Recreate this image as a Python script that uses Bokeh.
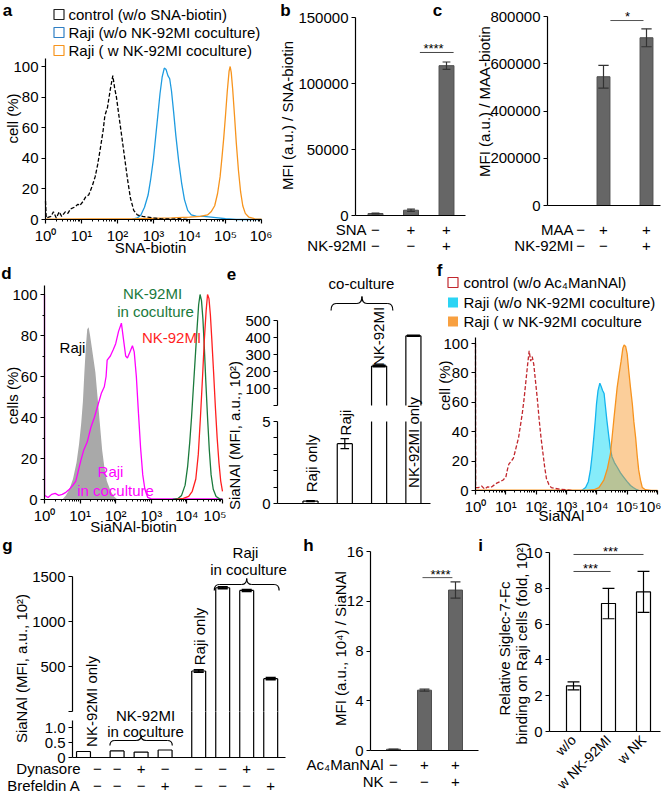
import math
from bokeh.plotting import figure
from bokeh.models import (Range1d, LinearAxis, FixedTicker, Label, BasicTickFormatter)
from bokeh.layouts import row, column
from bokeh.embed import file_html
from bokeh.resources import INLINE

FONT = "Liberation Sans"
MINUS = "\u2212"
SUP = "⁰¹²³⁴⁵⁶"
GRAY = "#666666"
GRAYL = "#4d4d4d"
PI2 = math.pi / 2

# ======================= DATA =======================
pct_ticks = [0, 20, 40, 60, 80, 100]

# (a) SNA-biotin flow histograms (log10 intensity, % of max)
a_ctrl_logx = [0.0, 0.02, 0.15, 0.22, 0.3, 0.38, 0.45, 0.55, 0.62, 0.7, 0.8, 0.9, 0.95, 1.05,
               1.12, 1.2, 1.3, 1.38, 1.45, 1.52, 1.6, 1.65, 1.72, 1.8, 1.87, 1.92, 1.97, 2.05,
               2.12, 2.2, 2.28, 2.36, 2.45, 2.55, 2.7, 2.85, 3.0, 3.2, 3.5, 3.7, 4.0]
a_ctrl_pct = [12, 1, 2, 5, 1, 5, 2, 5, 4, 7, 8, 10, 9, 12, 15, 16, 22, 28, 36, 46, 58, 68, 73,
              85, 94, 86, 80, 66, 54, 40, 26, 14, 6, 3, 2, 1.5, 1, 0.5, 0.3, 0.5, 0]
a_noco_logx = [2.4, 2.55, 2.65, 2.75, 2.85, 2.92, 3.0, 3.06, 3.12, 3.18, 3.24, 3.3, 3.35, 3.4,
               3.45, 3.5, 3.56, 3.62, 3.7, 3.78, 3.86, 3.95, 4.05, 4.2, 4.4, 4.6, 4.8, 5.0, 5.3, 6.0]
a_noco_pct = [0, 1, 3, 8, 16, 26, 40, 54, 68, 82, 93, 99, 98, 94, 92, 84, 70, 55, 38, 24, 13, 6,
              3, 2, 2, 1.5, 1, 0.5, 0, 0]
a_co_logx = [0.0, 2.5, 3.0, 3.5, 4.0, 4.3, 4.5, 4.6, 4.7, 4.78, 4.85, 4.9, 4.95, 5.0, 5.05, 5.1,
             5.13, 5.16, 5.2, 5.25, 5.3, 5.36, 5.42, 5.48, 5.55, 5.65, 5.8, 6.0]
a_co_pct = [0.3, 0.5, 0.8, 1, 1.5, 2, 3, 5, 9, 17, 28, 40, 53, 68, 84, 97, 100, 96, 85, 68, 50,
            32, 18, 9, 4, 1.5, 0.5, 0.2]
a_legend = ["control (w/o SNA-biotin)", "Raji (w/o NK-92MI coculture)",
            "Raji ( w   NK-92MI coculture)"]

# (b) SNA MFI bars
b_ticks = [0, 50000, 100000, 150000]
b_vals = [1500, 4000, 113500]
b_errs = [300, 900, 2800]
b_sig = 123500
b_sna = [MINUS, "+", "+"]
b_nk = [MINUS, MINUS, "+"]

# (c) MAA MFI bars
c_ticks = [0, 200000, 400000, 600000, 800000]
c_vals = [0, 545000, 710000]
c_errs = [0, 48000, 38000]
c_sig = 783000
c_maa = [MINUS, "+", "+"]
c_nk = [MINUS, MINUS, "+"]

# (d) SiaNAl-biotin histograms
d_raji_logx = [0.5, 0.6, 0.7, 0.8, 0.9, 0.97, 1.03, 1.08, 1.12, 1.16, 1.2, 1.24, 1.28, 1.33,
               1.38, 1.43, 1.49, 1.55, 1.62, 1.68, 1.75, 1.86, 1.95, 2.05]
d_raji_pct = [0, 2, 5, 10, 18, 27, 37, 48, 62, 74, 83, 84, 80, 74, 68, 62, 50, 38, 24, 16, 9, 4,
              1.5, 0]
d_rajico_logx = [0.0, 0.003, 0.1, 0.2, 0.3, 0.4, 0.5, 0.6, 0.7, 0.8, 0.88, 0.95, 1.02, 1.1, 1.2,
                 1.3, 1.4, 1.5, 1.6, 1.68, 1.73, 1.76, 1.85, 1.93, 2.0, 2.08, 2.16, 2.22, 2.28,
                 2.33, 2.4, 2.47, 2.52, 2.58, 2.64, 2.7, 2.76, 2.82, 2.9, 3.0, 5.0]
d_rajico_pct = [100, 2, 1, 2.5, 3, 2, 2.5, 3.5, 5, 7, 9, 14, 19, 24, 28, 35, 40, 46, 52, 55, 60,
                68, 70, 73, 76, 82, 86, 78, 70, 69, 72, 75, 72, 60, 42, 25, 12, 5, 1, 0.3, 0.3]
d_nkco_logx = [3.6, 3.75, 3.85, 3.95, 4.02, 4.08, 4.13, 4.18, 4.23, 4.28, 4.33, 4.37, 4.41, 4.45,
               4.49, 4.53, 4.58, 4.63, 4.68, 4.74, 4.82, 4.92, 5.0]
d_nkco_pct = [0, 0.5, 2, 7, 16, 28, 40, 54, 68, 82, 95, 100, 97, 88, 74, 58, 40, 24, 12, 5, 1.5,
              0.3, 0]
d_nk_logx = [3.7, 3.9, 4.05, 4.15, 4.25, 4.32, 4.38, 4.44, 4.49, 4.54, 4.58, 4.62, 4.66, 4.7,
             4.75, 4.8, 4.85, 4.9, 4.95, 5.0]
d_nk_pct = [0, 0.5, 1.5, 4, 10, 22, 40, 60, 78, 92, 100, 98, 90, 78, 62, 45, 30, 18, 9, 4]

# (e) SiaNAl MFI (broken axis)
e_names = ["Raji only", "Raji", "NK-92MI", "NK-92MI only"]
e_vals = [0.15, 3.65, 232, 410]
e_errs = [0.03, 0.3, 4, 3]
e_up_ticks = [0, 100, 200, 300, 400, 500]
e_lo_ticks = [0, 1, 2, 3, 4, 5]

# (f) SiaNAl histograms
f_ctrl_logx = [0.0, 0.005, 0.1, 0.2, 0.3, 0.4, 0.5, 0.6, 0.7, 0.8, 0.9, 1.0, 1.05, 1.1, 1.18,
               1.25, 1.3, 1.36, 1.42, 1.48, 1.54, 1.6, 1.66, 1.72, 1.77, 1.82, 1.87, 1.92, 1.98,
               2.04, 2.1, 2.16, 2.22, 2.28, 2.34, 2.42, 2.5, 2.6, 2.8, 3.0, 3.2]
f_ctrl_pct = [100, 2, 2, 3, 1, 2.5, 2, 3.5, 5, 6, 7, 9, 14, 18, 20, 22, 26, 31, 36, 44, 52, 62,
              74, 86, 95, 88, 91, 86, 74, 62, 48, 36, 26, 16, 8, 4, 2, 1.5, 0.8, 0.5, 0]
f_noco_logx = [3.5, 3.63, 3.72, 3.79, 3.85, 3.9, 3.95, 3.99, 4.04, 4.1, 4.14, 4.19, 4.24, 4.28,
               4.33, 4.4, 4.45, 4.5, 4.58, 4.67, 4.78, 4.89, 5.0, 5.11, 5.2, 5.28, 5.4]
f_noco_pct = [0, 2, 6, 14, 25, 36, 48, 59, 68, 73, 71, 68, 66, 58, 48, 36, 28, 23, 19, 16, 12, 9,
              6, 3.4, 2, 1, 0]
f_co_logx = [0.0, 3.7, 3.9, 4.07, 4.23, 4.35, 4.45, 4.56, 4.67, 4.74, 4.8, 4.86, 4.9, 4.95, 5.0,
             5.05, 5.11, 5.17, 5.22, 5.28, 5.33, 5.38, 5.44, 5.5, 5.6, 5.8, 6.0]
f_co_pct = [0.3, 0.3, 0.5, 2, 7, 15, 25, 48, 70, 80, 88, 97, 99, 98, 93, 82, 70, 59, 47, 36, 24,
            14, 7, 2, 0.5, 0, 0]
f_legend = ["control (w/o Ac\u2084ManNAl)", "Raji (w/o NK-92MI coculture)",
            "Raji (  w  NK-92MI coculture"]

# (g) SiaNAl MFI with inhibitors (broken axis)
g_vals = [0.2, 0.22, 0.18, 0.25, 450, 1375, 1345, 365]
g_errs = [0, 0, 0, 0, 12, 10, 10, 12]
g_dyn = [MINUS, MINUS, "+", MINUS, MINUS, MINUS, "+", MINUS]
g_bre = [MINUS, MINUS, MINUS, "+", MINUS, MINUS, MINUS, "+"]
g_up_ticks = [0, 500, 1000, 1500]
g_lo_ticks = [0, 0.5, 1.0]

# (h) SiaNAl MFI bars
h_vals = [0.1, 4.85, 12.9]
h_errs = [0.02, 0.08, 0.65]
h_sig = 13.9
h_ac = [MINUS, "+", "+"]
h_nk = [MINUS, MINUS, "+"]
h_ticks = [0, 4, 8, 12, 16]

# (i) Siglec-7-Fc binding
i_cats = ["w/o", "w NK-92MI", "w NK"]
i_vals = [2.55, 7.15, 7.8]
i_errs = [0.22, 0.85, 1.15]
i_sig = [8.94, 9.89]
i_ticks = [0, 2, 4, 6, 8, 10]


# ======================= HELPERS =======================
def style_ax(ax, size=15):
    ax.axis_line_color = "black"
    ax.axis_line_width = 1.2
    ax.major_tick_line_color = "black"
    ax.major_tick_line_width = 1.2
    ax.major_tick_in = 0
    ax.major_tick_out = 4
    ax.minor_tick_line_color = "black"
    ax.minor_tick_in = 0
    ax.minor_tick_out = 2
    ax.major_label_text_font = FONT
    ax.major_label_text_font_size = "%dpx" % size
    ax.major_label_text_color = "black"
    ax.major_label_standoff = 3


class Pan:
    """A figure whose plot frame fills its whole box; axes sit at fixed data locations."""

    def __init__(self, box, xref, yref, xlog=False, lref=None):
        self.box, self.xref, self.yref, self.xlog, self.lref = box, xref, yref, xlog, lref
        x0, y0, x1, y1 = box
        p = figure(width=x1 - x0, height=y1 - y0,
                   x_range=Range1d(self.xd(x0), self.xd(x1)),
                   y_range=Range1d(self.yd(y1), self.yd(y0)),
                   x_axis_type="log" if xlog else "linear", title=None,
                   output_backend="svg", toolbar_location=None,
                   min_border_left=0, min_border_right=0, min_border_top=0,
                   min_border_bottom=0)
        if lref is not None:
            p.extra_y_ranges = {"lower": Range1d(self.yl(y1), self.yl(y0))}
        p.xgrid.visible = False
        p.ygrid.visible = False
        p.outline_line_color = None
        for ax in list(p.xaxis) + list(p.yaxis):
            style_ax(ax)
        self.p = p

    def xd(self, rx):
        px, v, ppu = self.xref
        v = v + (rx - px) / ppu
        return 10 ** v if self.xlog else v

    def yd(self, ry):
        px, v, ppu = self.yref
        return v + (px - ry) / ppu

    def yl(self, ry):
        px, v, ppu = self.lref
        return v + (px - ry) / ppu

    def axes(self, x_axis_py, y_axis_px, xb, yb):
        xa = self.p.xaxis[0]
        xa.fixed_location = self.yd(x_axis_py)
        xa.bounds = xb
        ya = self.p.yaxis[0]
        ya.fixed_location = self.xd(y_axis_px)
        ya.bounds = yb

    def lab(self, rx, ry, text, size=15, color="black", align="center", angle=0.0,
            bold=False, xd=None):
        x = self.xd(rx) if xd is None else xd
        self.p.add_layout(Label(x=x, y=self.yd(ry), text=text, text_font=FONT,
                                text_font_size="%dpx" % size, text_color=color,
                                text_align=align, text_baseline="middle", angle=angle,
                                text_font_style="bold" if bold else "normal"))

    def square(self, rx, ry, fill, line):
        self.p.rect(x=[self.xd(rx)], y=[self.yd(ry)], width=10, height=10,
                    width_units="screen", height_units="screen", fill_color=fill,
                    line_color=line, line_width=1.2)


def log_xaxis(p, ndec):
    ax = p.xaxis[0]
    ax.ticker = FixedTicker(ticks=[10 ** k for k in range(ndec + 1)],
                            minor_ticks=[m * 10 ** k for k in range(ndec) for m in range(2, 10)])
    ax.major_label_overrides = {10 ** k: "10" + SUP[k] for k in range(ndec + 1)}


def no_xticks(p):
    p.xaxis[0].ticker = FixedTicker(ticks=[])


def errbars(p, xs, vals, errs, capw, lw=1.2, color="black", name="default"):
    sel = [(x, v, e) for x, v, e in zip(xs, vals, errs) if e > 0]
    if not sel:
        return
    X = [s[0] for s in sel]
    lo = [s[1] - s[2] for s in sel]
    hi = [s[1] + s[2] for s in sel]
    p.segment(x0=X, y0=lo, x1=X, y1=hi, line_color=color, line_width=lw, y_range_name=name)
    for yy in (lo, hi):
        p.segment(x0=[x - capw / 2 for x in X], y0=yy, x1=[x + capw / 2 for x in X], y1=yy,
                  line_color=color, line_width=lw, y_range_name=name)


def split_bars(p, xs, vals, w, lo_top, up_bot, lw=1.2):
    def draw(xx, bot, top, closed, name):
        if not xx:
            return
        p.vbar(x=xx, bottom=bot, top=top, width=w, fill_color="white", line_color=None,
               y_range_name=name)
        xl = [x - w / 2 for x in xx]
        xr = [x + w / 2 for x in xx]
        p.segment(x0=xl + xr, y0=bot + bot, x1=xl + xr, y1=top + top, line_color="black",
                  line_width=lw, y_range_name=name)
        cl = [(a, b, t) for a, b, t, c in zip(xl, xr, top, closed) if c]
        if cl:
            p.segment(x0=[c[0] for c in cl], y0=[c[2] for c in cl], x1=[c[1] for c in cl],
                      y1=[c[2] for c in cl], line_color="black", line_width=lw,
                      y_range_name=name)
    lt = [min(v, lo_top) for v in vals]
    draw(list(xs), [0] * len(xs), lt, [v <= lo_top for v in vals], "lower")
    up = [(x, v) for x, v in zip(xs, vals) if v > lo_top]
    draw([u[0] for u in up], [up_bot] * len(up), [u[1] for u in up], [True] * len(up), "default")


def brace(p, xa, xb, y_end, y_mid, y_tip, rx):
    xc = (xa + xb) / 2
    p.quadratic(x0=[xa, xc - rx, xc, xb - rx], y0=[y_end, y_mid, y_tip, y_mid],
                x1=[xa + rx, xc, xc + rx, xb], y1=[y_mid, y_tip, y_mid, y_end],
                cx=[xa, xc, xc, xb], cy=[y_mid] * 4, line_color="black", line_width=1.2)
    p.segment(x0=[xa + rx, xc + rx], y0=[y_mid, y_mid], x1=[xc - rx, xb - rx],
              y1=[y_mid, y_mid], line_color="black", line_width=1.2)


# ======================= (a) =======================
A = Pan((0, 0, 272, 255), (45, 0, 36.0), (219, 0, 1.53), xlog=True)
pa = A.p
A.axes(219, 45, (1, 1e6), (0, A.yd(58)))
log_xaxis(pa, 6)
pa.yaxis[0].ticker = FixedTicker(ticks=pct_ticks)
A_BLUE, A_OR = "#1e9be0", "#f7941d"
pa.line([10 ** v for v in a_noco_logx], a_noco_pct, line_color=A_BLUE, line_width=1.3)
pa.line([10 ** v for v in a_co_logx], a_co_pct, line_color=A_OR, line_width=1.3)
pa.line([10 ** v for v in a_ctrl_logx], a_ctrl_pct, line_color="black", line_width=1.3,
        line_dash="4 2")
for ry, col, t in zip([14, 32, 50], ["#222222", "#2f7fc4", A_OR], a_legend):
    A.square(58.5, ry, None, col)
    A.lab(68, ry, t, align="left")
A.lab(7, 10, "a", size=17, bold=True)
A.lab(12, 118, "cell (%)", angle=PI2)
A.lab(150, 247, "SNA-biotin")

# ======================= (b) =======================
B = Pan((272, 0, 472, 255), (375, 0, 35.5), (215, 0, 198 / 150000))
pb = B.p
B.axes(215, 355, (B.xd(355), B.xd(465)), (0, 150000))
no_xticks(pb)
pb.yaxis[0].ticker = FixedTicker(ticks=b_ticks)
pb.yaxis[0].formatter = BasicTickFormatter(use_scientific=False)
bx = [0, 1, 2]
pb.vbar(x=bx, top=b_vals, width=0.42, fill_color=GRAY, line_color=GRAYL)
errbars(pb, bx, b_vals, b_errs, 0.22, color="#333333")
pb.segment(x0=[1.25], y0=[b_sig], x1=[2.2], y1=[b_sig], line_color="#444444", line_width=1)
B.lab(433, 48, "****", size=13)
B.lab(287, 115, "MFI (a.u.) / SNA-biotin", angle=PI2)
B.lab(366, 229, "SNA", align="right")
B.lab(366, 245, "NK-92MI", align="right")
for i in range(3):
    B.lab(0, 229, b_sna[i], xd=bx[i])
    B.lab(0, 245, b_nk[i], xd=bx[i])
B.lab(285, 10, "b", size=17, bold=True)
B.lab(437, 10, "c", size=17, bold=True)

# ======================= (c) =======================
C = Pan((472, 0, 661, 255), (560, 0, 43.0), (205, 0, 189 / 800000))
pc = C.p
C.axes(205, 547, (C.xd(547), C.xd(660)), (0, 800000))
no_xticks(pc)
pc.yaxis[0].ticker = FixedTicker(ticks=c_ticks)
pc.yaxis[0].formatter = BasicTickFormatter(use_scientific=False)
cx = [0, 1, 2]
pc.vbar(x=[x for x, v in zip(cx, c_vals) if v > 0], top=[v for v in c_vals if v > 0],
        width=0.3, fill_color=GRAY, line_color=GRAYL)
errbars(pc, cx, c_vals, c_errs, 0.24, color="#333333")
pc.segment(x0=[1.16], y0=[c_sig], x1=[1.93], y1=[c_sig], line_color="#555555", line_width=1)
C.lab(627, 16, "*", size=13)
C.lab(484, 101, "MFI (a.u.) / MAA-biotin", angle=PI2)
C.lab(573, 229, "MAA", align="right")
C.lab(573, 245, "NK-92MI", align="right")
c_sign_x = [0.47, 1, 2]
for i in range(3):
    C.lab(0, 229, c_maa[i], xd=c_sign_x[i])
    C.lab(0, 245, c_nk[i], xd=c_sign_x[i])

# ======================= (d) =======================
D = Pan((0, 255, 226, 534), (44, 0, 35.6), (499, 0, 2.05), xlog=True)
pd = D.p
D.axes(499, 44, (1, 1e5), (0, D.yd(285)))
log_xaxis(pd, 5)
pd.yaxis[0].ticker = FixedTicker(ticks=pct_ticks, minor_ticks=[10, 30, 50, 70, 90])
dx = [10 ** v for v in d_raji_logx]
pd.varea(x=dx, y1=[0] * len(dx), y2=d_raji_pct, fill_color="#a9a9a9")
pd.line([10 ** v for v in d_rajico_logx], d_rajico_pct, line_color="#ff00ff", line_width=1.3)
pd.line([10 ** v for v in d_nkco_logx], d_nkco_pct, line_color="#1a7a3c", line_width=1.3)
pd.line([10 ** v for v in d_nk_logx], d_nk_pct, line_color="#ff1f1f", line_width=1.3)
D.lab(6, 273, "d", size=17, bold=True)
D.lab(12, 395, "cells (%)", angle=PI2)
D.lab(133, 526, "SiaNAl-biotin")
D.lab(72, 347, "Raji")
D.lab(152, 293, "NK-92MI", color="#1a7a3c")
D.lab(155, 311, "in coculture", color="#1a7a3c")
D.lab(171, 337, "NK-92MI", color="#ff1f1f")
D.lab(110, 471, "Raji", color="#ff00ff")
D.lab(115, 490, "in coculture", color="#ff00ff")

# ======================= (e) =======================
E_SP = 34.3
E = Pan((226, 255, 435, 534), (310, 0, E_SP), (388, 100, 0.17), lref=(503, 0, 16.4))
pe = E.p
E.axes(503, 277, (E.xd(277), E.xd(430)), (0, 500))
no_xticks(pe)
ye = pe.yaxis[0]
ye.ticker = FixedTicker(ticks=e_up_ticks)
ye.major_label_overrides = {0: ""}
ylo = LinearAxis(y_range_name="lower", ticker=FixedTicker(ticks=e_lo_ticks), bounds=(0, 5),
                 major_label_overrides={1: "", 2: "", 3: "", 4: ""},
                 fixed_location=E.xd(277))
style_ax(ylo)
pe.add_layout(ylo, "left")
ex = [0, 1, 2, 3]
split_bars(pe, ex, e_vals, 0.44, 5, 0)
elo = [i for i, v in enumerate(e_vals) if v <= 5]
eup = [i for i, v in enumerate(e_vals) if v > 5]
errbars(pe, [ex[i] for i in elo], [e_vals[i] for i in elo], [e_errs[i] for i in elo], 0.25,
        name="lower")
errbars(pe, [ex[i] for i in eup], [e_vals[i] for i in eup], [e_errs[i] for i in eup], 0.38,
        lw=1.6)
brace(pe, 1 - 0.4, 2 + 0.4, E.yd(310), E.yd(303), E.yd(296), 5 / E_SP)
E.lab(361, 283, "co-culture")
e_lab_pos = [(311, 463), (345, 422), (378, 336), (413, 442)]
for (lx, ly), t in zip(e_lab_pos, e_names):
    E.lab(lx, ly, t, angle=PI2)
E.lab(234, 435, "SiaNAl (MFI, a.u., 10\u00b2)", angle=PI2)
E.lab(231, 273, "e", size=17, bold=True)

# ======================= (f) =======================
F = Pan((435, 255, 661, 534), (475, 0, 30.33), (490, 0, 1.47), xlog=True)
pf = F.p
F.axes(490, 475, (1, 1e6), (0, F.yd(337)))
log_xaxis(pf, 6)
pf.yaxis[0].ticker = FixedTicker(ticks=pct_ticks)
fnx = [10 ** v for v in f_noco_logx]
fcx = [10 ** v for v in f_co_logx]
pf.varea(x=fnx, y1=[0] * len(fnx), y2=f_noco_pct, fill_color="#22ddf5", fill_alpha=0.55)
pf.line(fnx, f_noco_pct, line_color="#14b4ee", line_width=1.3)
pf.varea(x=fcx, y1=[0] * len(fcx), y2=f_co_pct, fill_color="#f7931e", fill_alpha=0.45)
pf.line(fcx, f_co_pct, line_color="#f7931e", line_width=1.3)
pf.line([10 ** v for v in f_ctrl_logx], f_ctrl_pct, line_color="#c1272d", line_width=1.3,
        line_dash="4 2")
for ry, fill, line, t in zip([282, 302, 321], [None, "#2bd4f4", "#f8a040"],
                             ["#c1272d", None, None], f_legend):
    F.square(452.5, ry, fill, line)
    F.lab(463, ry, t, align="left")
F.lab(439, 270, "f", size=17, bold=True)
F.lab(444, 385, "cell (%)", angle=PI2)
F.lab(561, 515, "SiaNAl")

# ======================= (g) =======================
G_SP = 24.0
G = Pan((0, 534, 290, 794), (83, 0, G_SP), (666, 500, 0.09), lref=(757, 0, 30.0))
pg = G.p
G.axes(757, 72, (G.xd(72), G.xd(285)), (0, 1500))
no_xticks(pg)
yg = pg.yaxis[0]
yg.ticker = FixedTicker(ticks=g_up_ticks)
yg.major_label_overrides = {0: ""}
ygl = LinearAxis(y_range_name="lower", ticker=FixedTicker(ticks=g_lo_ticks),
                 bounds=(0, G.yl(720)),
                 major_label_overrides={0: "0", 0.5: "0.5", 1.0: "1.0"},
                 fixed_location=G.xd(72))
style_ax(ygl)
pg.add_layout(ygl, "left")
g_x = [0, 1.4, 2.4, 3.4, 4.8, 5.8, 6.8, 7.8]
g_lo_top = G.yl(666 + 500 * 0.09)
split_bars(pg, g_x, g_vals, 0.58, g_lo_top, 0)
errbars(pg, g_x, g_vals, g_errs, 0.42, lw=1.6)
brace(pg, 1.1, 3.7, G.yd(745), G.yd(740), G.yd(735), 5 / G_SP)
brace(pg, 5.45, 8.15, G.yd(590), G.yd(584), G.yd(578), 5 / G_SP)
G.lab(7, 545, "g", size=17, bold=True)
G.lab(21, 668, "SiaNAl (MFI, a.u., 10\u00b2)", angle=PI2)
G.lab(91, 701, "NK-92MI only", angle=PI2)
G.lab(199, 636, "Raji only", angle=PI2)
G.lab(145, 715, "NK-92MI")
G.lab(145, 731, "in coculture")
G.lab(245, 552, "Raji")
G.lab(248, 569, "in coculture")
G.lab(80, 768, "Dynasore", align="right")
G.lab(80, 785, "Brefeldin A", align="right")
g_sign_x = [0.58, 1.4, 2.4, 3.4, 4.8, 5.8, 6.8, 7.8]
for i in range(8):
    G.lab(0, 768, g_dyn[i], xd=g_sign_x[i])
    G.lab(0, 785, g_bre[i], xd=g_sign_x[i])

# ======================= (h) =======================
H = Pan((290, 534, 488, 794), (393, 0, 31.0), (750, 0, 199 / 16))
ph = H.p
H.axes(750, 370, (H.xd(370), H.xd(478)), (0, 16))
no_xticks(ph)
ph.yaxis[0].ticker = FixedTicker(ticks=h_ticks)
hx = [0, 1, 2]
ph.vbar(x=hx, top=h_vals, width=0.45, fill_color=GRAY, line_color=GRAYL)
errbars(ph, hx, h_vals, h_errs, 0.32, color="#333333")
ph.segment(x0=[0.935], y0=[h_sig], x1=[1.9], y1=[h_sig], line_color="#555555", line_width=1)
H.lab(440, 574, "****", size=13)
H.lab(340, 648, "MFI (a.u., 10\u2074) / SiaNAl", angle=PI2)
H.lab(383, 764, "Ac\u2084ManNAl", align="right")
H.lab(383, 781, "NK", align="right")
for i in range(3):
    H.lab(0, 764, h_ac[i], xd=hx[i])
    H.lab(0, 781, h_nk[i], xd=hx[i])
H.lab(308, 545, "h", size=17, bold=True)
H.lab(480, 545, "i", size=17, bold=True)

# ======================= (i) =======================
I = Pan((488, 534, 661, 794), (573, 0, 35.0), (731, 0, 17.9))
pi_ = I.p
I.axes(731, 549, (I.xd(549), I.xd(660)), (0, 10))
xi = pi_.xaxis[0]
xi.ticker = FixedTicker(ticks=[0, 1, 2])
xi.major_label_overrides = {k: t for k, t in enumerate(i_cats)}
xi.major_label_orientation = math.pi / 4
xi.major_tick_line_color = None
xi.major_label_text_font_size = "14px"
xi.major_label_standoff = 2
pi_.yaxis[0].ticker = FixedTicker(ticks=i_ticks)
ix = [0, 1, 2]
pi_.vbar(x=ix, top=i_vals, width=0.4, fill_color="white", line_color="black", line_width=1.2)
errbars(pi_, ix, i_vals, i_errs, 0.34)
pi_.segment(x0=[0, 0], y0=i_sig, x1=[1.06, 2], y1=i_sig, line_color="#444444", line_width=1)
I.lab(590, 568, "***", size=13)
I.lab(610, 551, "***", size=13)
I.lab(504, 648, "Relative Siglec-7-Fc", angle=PI2)
I.lab(521, 643, "binding on Raji cells (fold, 10\u00b2)", angle=PI2)

lay = column(row(pa, pb, pc), row(pd, pe, pf), row(pg, ph, pi_))
with open("out.html", "w", encoding="utf-8") as fh:
    fh.write(file_html(lay, INLINE))
